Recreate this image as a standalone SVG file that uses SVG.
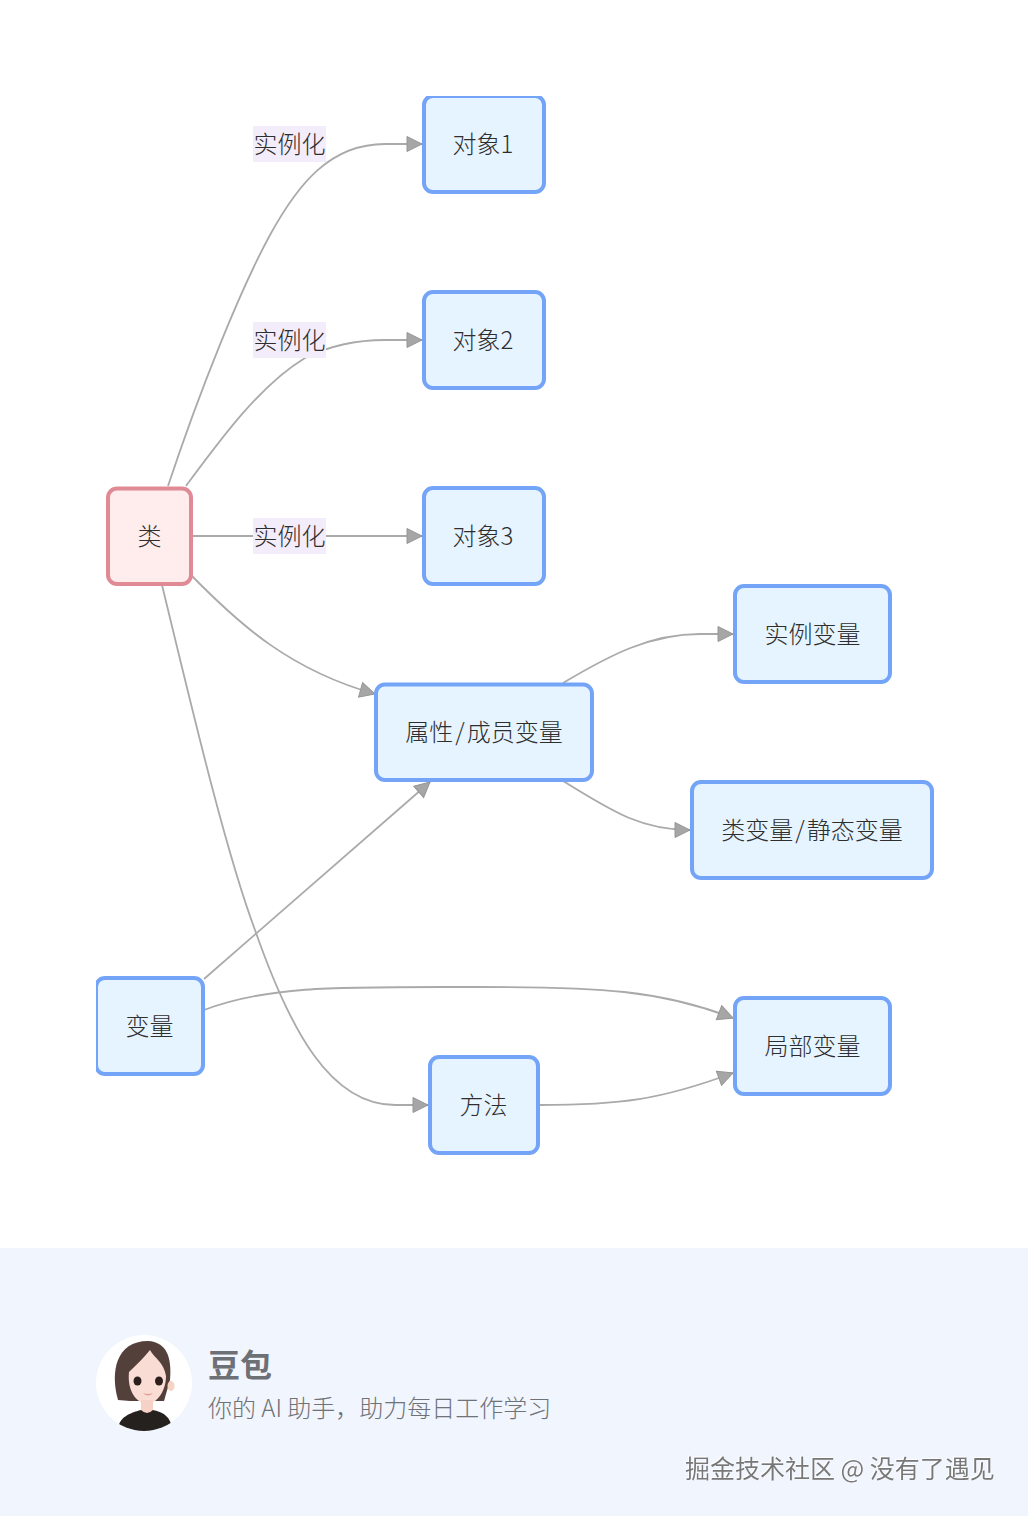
<svg xmlns="http://www.w3.org/2000/svg" width="1028" height="1516" viewBox="0 0 1028 1516">
<style>
text{font-family:"Noto Sans CJK SC","Noto Sans",sans-serif;}
.n rect{fill:#e6f4ff;stroke:#74a4f7;stroke-width:4}
.n text,.l text{font-size:24px;font-weight:300;fill:#2e2e2e;text-anchor:middle}
.c path{fill:none;stroke:#aaa;stroke-width:1.8}
.l rect{fill:#f3ecfb}
</style>
<defs>
<marker id="a" markerUnits="userSpaceOnUse" markerWidth="20" markerHeight="20" refX="16" refY="9" orient="auto"><path d="M1,1.500L16,9L1,16.500Z" fill="#a6a6a6" stroke="#969696" stroke-width="1"/></marker>
<clipPath id="top"><rect x="0" y="96" width="1028" height="1420"/></clipPath>
<clipPath id="left"><rect x="96" y="0" width="932" height="1516"/></clipPath>
<clipPath id="av"><circle cx="144" cy="1383" r="48"/></clipPath>
<filter id="s" x="-5%" y="-20%" width="110%" height="140%"><feDropShadow dx="-1" dy="-1" stdDeviation="0.3" flood-color="#ffffff"/></filter>
</defs>
<rect width="1028" height="1516" fill="#fff"/>
<g id="connectors" class="c">
<path d="M168,486C200,390 240,290 270,235C298,184 330,144 385,144L422,144" marker-end="url(#a)"/>
<path d="M186,486C220,440 260,385 305,358C335,343 365,340 385,340L422,340" marker-end="url(#a)"/>
<path d="M192,536L422,536" marker-end="url(#a)"/>
<path d="M192,576C240,625 290,670 375,694" marker-end="url(#a)"/>
<path d="M563,683C610,655 650,634 700,634L733,634" marker-end="url(#a)"/>
<path d="M563,781C610,810 640,830 690,830" marker-end="url(#a)"/>
<path d="M204,979L430,782" marker-end="url(#a)"/>
<path d="M162,585C190,700 225,850 255,930C290,1030 330,1105 395,1105L428,1105" marker-end="url(#a)"/>
<path d="M204,1010C270,985 340,987 480,987C600,987 660,990 733,1018" marker-end="url(#a)"/>
<path d="M539,1105C620,1105 660,1100 733,1073" marker-end="url(#a)"/>
</g>
<g id="labels" class="l">
<g id="label1"><rect x="253" y="126" width="73" height="36"/><text x="289.500" y="152.500">实例化</text></g>
<g id="label2"><rect x="253" y="322" width="73" height="36"/><text x="289.500" y="348.500">实例化</text></g>
<g id="label3"><rect x="253" y="518" width="73" height="36"/><text x="289.500" y="544.500">实例化</text></g>
</g>
<g id="class" class="n"><rect x="108" y="488.500" width="83" height="95.500" rx="9" style="fill:#ffecec;stroke:#e08a95"/><text x="149.500" y="544.500">类</text></g>
<g id="obj1" class="n" clip-path="url(#top)"><rect x="424" y="96" width="120" height="96" rx="9"/><text x="483" y="152.500">对象1</text></g>
<g id="obj2" class="n"><rect x="424" y="292" width="120" height="96" rx="9"/><text x="483" y="348.500">对象2</text></g>
<g id="obj3" class="n"><rect x="424" y="488" width="120" height="96" rx="9"/><text x="483" y="544.500">对象3</text></g>
<g id="attr" class="n"><rect x="376" y="684.500" width="216" height="95.500" rx="9"/><text x="484" y="740.500">属性<tspan dx="2">/</tspan><tspan dx="2">成员变量</tspan></text></g>
<g id="inst" class="n"><rect x="735" y="586" width="155" height="96" rx="9"/><text x="812.500" y="642.500">实例变量</text></g>
<g id="static" class="n"><rect x="692" y="782" width="240" height="96" rx="9"/><text x="812" y="838.500">类变量<tspan dx="2">/</tspan><tspan dx="2">静态变量</tspan></text></g>
<g id="var" class="n" clip-path="url(#left)"><rect x="96" y="978" width="107" height="96" rx="9"/><text x="149.500" y="1034.500">变量</text></g>
<g id="local" class="n"><rect x="735" y="998" width="155" height="96" rx="9"/><text x="812.500" y="1054.500">局部变量</text></g>
<g id="method" class="n"><rect x="430" y="1057" width="108" height="96" rx="9"/><text x="483.500" y="1113.500">方法</text></g>
<rect x="0" y="1248" width="1028" height="268" fill="#f1f5fd"/>
<circle cx="144" cy="1383" r="48" fill="#fff"/>
<g clip-path="url(#av)">
<path d="M118,1400C110,1372 116,1341 148,1341C166,1342 172,1356 170,1380L164,1401L130,1401Z" fill="#54403a"/>
<path d="M129,1372C135,1366 142,1360 150,1350C154,1358 164,1362 166,1376C166,1390 158,1403 147,1404C136,1403 127,1390 129,1372Z" fill="#f9dcd4"/>
<ellipse cx="171" cy="1386" rx="3.500" ry="5" fill="#f6d3c3"/>
<rect x="141" y="1400" width="12" height="14" fill="#f7d0c6"/>
<ellipse cx="137.500" cy="1381" rx="4" ry="4.500" fill="#2b1e1c"/><ellipse cx="159" cy="1381" rx="4" ry="4.500" fill="#2b1e1c"/>
<path d="M143,1393Q148,1395 153,1393Q148,1398 143,1393Z" fill="#e79a94"/>
<path d="M118,1431C118,1417 130,1413 141,1410Q147,1416 153,1410C162,1412 172,1416 172,1431Z" fill="#25211f"/>
</g>
<text x="208" y="1377" font-size="32" font-weight="700" fill="#6d7074">豆包</text>
<text x="208" y="1417" font-size="24" font-weight="300" fill="#6f7277">你的 AI 助手，助力每日工作学习</text>
<text x="685" y="1478" font-size="25" font-weight="400" fill="#777" filter="url(#s)">掘金技术社区 @ 没有了遇见</text>
</svg>
